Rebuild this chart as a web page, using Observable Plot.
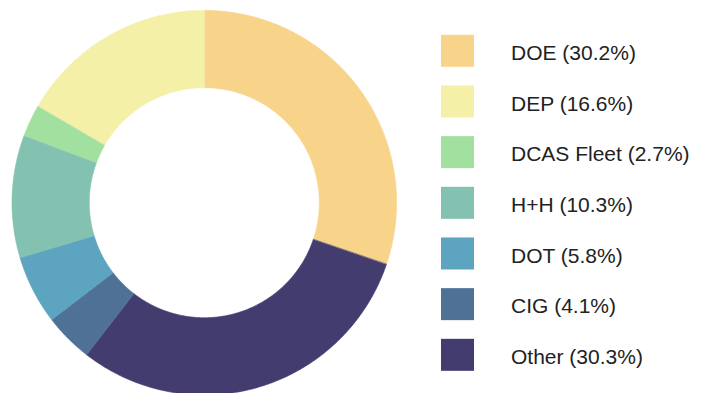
<!DOCTYPE html>
<html>
<head>
<meta charset="utf-8">
<script src="https://cdn.jsdelivr.net/npm/d3@7"></script>
<script src="https://cdn.jsdelivr.net/npm/@observablehq/plot@0.6"></script>
<style>
  html, body { margin: 0; padding: 0; background: #fff; }
  #chart svg { display: block; }
</style>
</head>
<body>
<div id="chart"></div>
<script>
// ---- data ----
const labels = ["DOE", "DEP", "DCAS Fleet", "H+H", "DOT", "CIG", "Other"];
const shares = [30.2, 16.6, 2.7, 10.3, 5.8, 4.1, 30.3];
const colors = ["#f8d48b", "#f4f0a8", "#a2e0a0", "#83c2b0", "#5ca4bf", "#4f7196", "#433c6f"];

// ---- layout ----
const W = 706, H = 393;
const cx = 204.3, cy = 202.7, R = 192.3, r = 115;
const swX1 = 441, swX2 = 474, swH = 32, row0 = 50.8, rowStep = 50.67, textX = 510.5;

// Pie: DOE starts at top going clockwise, then the rest in reverse legend order
const items = labels.map((l, i) => ({label: l, share: shares[i], color: colors[i], i}));
const pieOrder = [items[0], ...items.slice(1).reverse()];
const arcs = d3.pie().sort(null).value(d => d.share)(pieOrder);

const ring = [];
for (const a of arcs) {
  const n = Math.max(4, Math.ceil((a.endAngle - a.startAngle) / 0.01));
  for (let k = 0; k <= n; k++) {
    const t = a.startAngle + (a.endAngle - a.startAngle) * k / n;
    ring.push({
      label: a.data.label,
      color: a.data.color,
      xi: cx + r * Math.sin(t), yi: cy - r * Math.cos(t),
      xo: cx + R * Math.sin(t), yo: cy - R * Math.cos(t)
    });
  }
}

const legend = items.map(d => ({
  ...d,
  yc: row0 + d.i * rowStep,
  text: `${d.label} (${d.share.toFixed(1)}%)`
}));

const chart = Plot.plot({
  width: W,
  height: H,
  margin: 0,
  x: {domain: [0, W], range: [0, W], axis: null},
  y: {domain: [0, H], range: [0, H], axis: null},
  style: {fontFamily: "'Liberation Sans', Arial, Helvetica, sans-serif", background: "#fff"},
  marks: [
    Plot.area(ring, {
      x1: "xi", y1: "yi", x2: "xo", y2: "yo",
      z: "label", fill: "color", stroke: "color", strokeWidth: 0.6
    }),
    Plot.rect(legend, {
      x1: () => swX1, x2: () => swX2,
      y1: d => d.yc - swH / 2, y2: d => d.yc + swH / 2,
      fill: "color"
    }),
    Plot.text(legend, {
      x: () => textX, y: "yc", text: "text",
      textAnchor: "start", fontSize: 21, dy: 1.8, fill: "#222222"
    })
  ]
});
document.getElementById("chart").append(chart);
</script>
</body>
</html>
